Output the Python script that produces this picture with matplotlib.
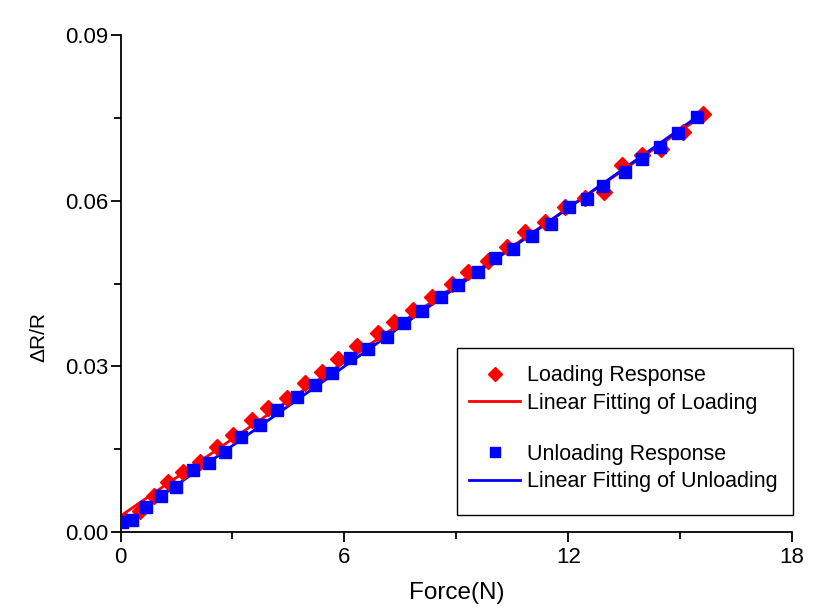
import numpy as np
import matplotlib
matplotlib.use('Agg')
from matplotlib import pyplot as plt
from matplotlib.lines import Line2D
from matplotlib.patches import Rectangle
from matplotlib.ticker import MultipleLocator

plt.rcParams['font.family'] = ['Liberation Sans', 'DejaVu Sans']

# loading response (red diamonds)
load_x = [0.12, 0.52, 0.91, 1.28, 1.68, 2.13, 2.58, 3.02, 3.52, 3.96, 4.45, 4.95,
          5.39, 5.84, 6.35, 6.91, 7.34, 7.85, 8.34, 8.88, 9.32, 9.86, 10.35, 10.84,
          11.38, 11.91, 12.45, 12.97, 13.43, 13.97, 14.50, 15.08, 15.62]
load_y = [0.0022, 0.0038, 0.0065, 0.0091, 0.0109, 0.0127, 0.0154, 0.0176, 0.0203,
          0.0224, 0.0242, 0.0269, 0.0290, 0.0314, 0.0336, 0.0360, 0.0381, 0.0402,
          0.0426, 0.0450, 0.0471, 0.0490, 0.0516, 0.0544, 0.0562, 0.0589, 0.0604,
          0.0616, 0.0665, 0.0683, 0.0694, 0.0725, 0.0757]

# unloading response (blue squares)
unload_x = [0.05, 0.30, 0.68, 1.08, 1.48, 1.95, 2.38, 2.80, 3.23, 3.74, 4.19, 4.72,
            5.21, 5.66, 6.15, 6.64, 7.13, 7.61, 8.07, 8.59, 9.05, 9.57, 10.04, 10.53,
            11.04, 11.54, 12.02, 12.50, 12.94, 13.52, 13.97, 14.46, 14.95, 15.44]
unload_y = [0.0018, 0.0022, 0.0045, 0.0065, 0.0082, 0.0112, 0.0125, 0.0145, 0.0172,
            0.0194, 0.0221, 0.0245, 0.0266, 0.0288, 0.0315, 0.0331, 0.0354, 0.0379,
            0.0400, 0.0426, 0.0447, 0.0470, 0.0497, 0.0512, 0.0536, 0.0558, 0.0588,
            0.0603, 0.0627, 0.0652, 0.0675, 0.0697, 0.0723, 0.0751]

# linear fits (end points)
load_fit_x = [0.0, 15.62]
load_fit_y = [0.0029, 0.0755]
unload_fit_x = [0.0, 15.44]
unload_fit_y = [0.0013, 0.0751]

fig = plt.figure(figsize=(8.26, 6.11), dpi=100)
ax = fig.add_axes([0.1459, 0.1293, 0.8130, 0.8134])

ax.plot(load_fit_x, load_fit_y, color='#ff0000', lw=2, zorder=2)
ax.plot(unload_fit_x, unload_fit_y, color='#0000ff', lw=2, zorder=2)
ax.plot(load_x, load_y, ls='none', marker='D', ms=8, color='#ff0000', mec='#ff0000', zorder=3)
ax.plot(unload_x, unload_y, ls='none', marker='s', ms=8.5, color='#0000ff', mec='#0000ff', zorder=4)

ax.set_xlim(0, 18)
ax.set_ylim(0, 0.09)
ax.xaxis.set_major_locator(MultipleLocator(6))
ax.xaxis.set_minor_locator(MultipleLocator(3))
ax.yaxis.set_major_locator(MultipleLocator(0.03))
ax.yaxis.set_minor_locator(MultipleLocator(0.015))
ax.set_yticks([0, 0.03, 0.06, 0.09])
ax.set_yticklabels(['0.00', '0.03', '0.06', '0.09'])

for s in ['top', 'right']:
    ax.spines[s].set_visible(False)
for s in ['left', 'bottom']:
    ax.spines[s].set_linewidth(1.3)
ax.tick_params(which='major', direction='out', length=7, width=1.3, labelsize=16)
ax.tick_params(axis='y', which='major', pad=2)
ax.tick_params(axis='x', which='major', pad=4)
ax.tick_params(which='minor', direction='out', length=5, width=1.3)

ax.set_xlabel('Force(N)', fontsize=17.5, labelpad=10)
ax.set_ylabel('\u0394R/R', fontsize=15)
ax.yaxis.set_label_coords(-0.107, 0.392)

# legend box drawn separately (Origin style, extra space at bottom)
ax.add_patch(Rectangle((0.501, 0.034), 0.500, 0.336, transform=ax.transAxes,
                       facecolor='white', edgecolor='black', lw=1.0,
                       clip_on=False, zorder=4.5))

handles = [
    Line2D([], [], ls='none', marker='D', ms=7, color='#ff0000'),
    Line2D([], [], color='#ff0000', lw=2),
    Line2D([], [], ls='none'),
    Line2D([], [], ls='none', marker='s', ms=7, color='#0000ff'),
    Line2D([], [], color='#0000ff', lw=2),
]
labels = ['Loading Response', 'Linear Fitting of Loading', ' ',
          'Unloading Response', 'Linear Fitting of Unloading']
leg = ax.legend(handles, labels, loc='upper left', bbox_to_anchor=(0.494, 0.370),
                fontsize=15.5, frameon=False,
                handlelength=2.35, handletextpad=0.3, labelspacing=0.3,
                borderpad=0.8, borderaxespad=0)
leg.set_zorder(5)
leg.get_texts()[2].set_fontsize(7)

fig.savefig('out.png', dpi=100)
